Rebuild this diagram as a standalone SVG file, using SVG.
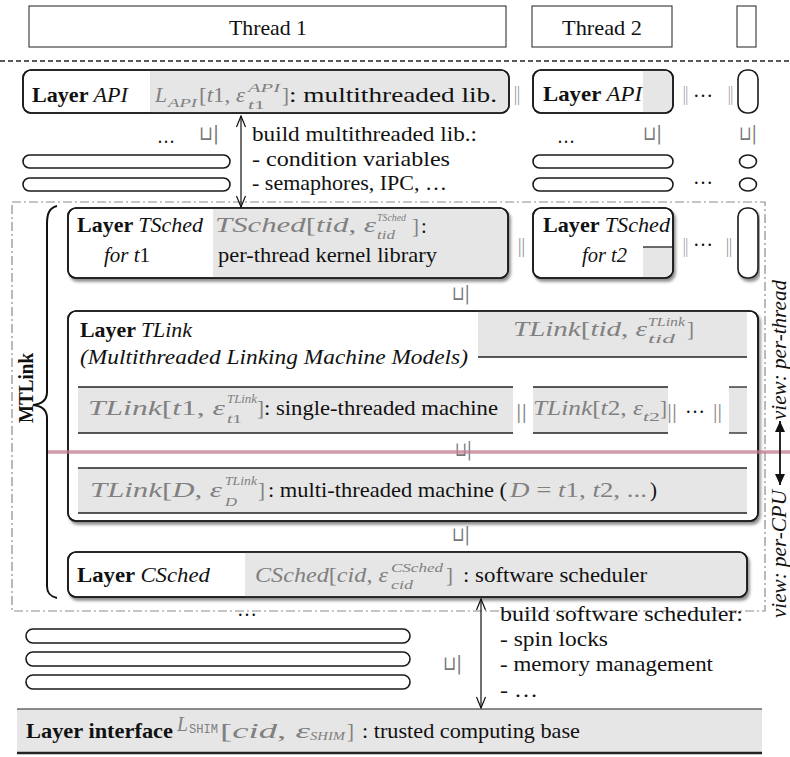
<svg xmlns="http://www.w3.org/2000/svg" width="790" height="757" viewBox="0 0 790 757">
<defs>
<style>
.t{font-family:"Liberation Serif","Times New Roman",serif;font-size:21px;fill:#111}
.h{font-size:22px}
.b{font-weight:bold}
.i{font-style:italic}
.m{fill:#808080}
.s{font-size:13px}
.xs{font-size:11px}
.mono{font-family:"Liberation Mono","Courier New",monospace}
.bar{font-family:"Liberation Serif",serif;font-size:20px;fill:#8a8a8a}
.sq{font-family:"DejaVu Sans",sans-serif;font-size:20px;fill:#777}
.box{fill:#fff;stroke:#1a1a1a;stroke-width:1.6}
.g{fill:#e6e6e6}
.ln{stroke:#222;stroke-width:1.3;fill:none}
.pill{fill:#fff;stroke:#1a1a1a;stroke-width:1.6}
.hdr{fill:#fff;stroke:#333;stroke-width:1.1}
.con{stroke:#111;stroke-width:1.2;fill:none}
</style>
<filter id="sh" x="-5%" y="-10%" width="115%" height="140%">
<feDropShadow dx="2" dy="3" stdDeviation="1.6" flood-color="#000" flood-opacity="0.45"/>
</filter>
<marker id="open" viewBox="-13 -6 14 12" markerWidth="14" markerHeight="12" refX="0" refY="0" orient="auto-start-reverse" markerUnits="userSpaceOnUse">
<path d="M-11,-4.5 L0,0 L-11,4.5" fill="none" stroke="#111" stroke-width="1.2"/>
</marker>
<marker id="solid" viewBox="-12 -6 13 12" markerWidth="13" markerHeight="12" refX="0" refY="0" orient="auto-start-reverse" markerUnits="userSpaceOnUse">
<path d="M-11,-5 L0,0 L-11,5 Z" fill="#111"/>
</marker>
</defs>
<rect width="790" height="757" fill="#fff"/>

<!-- thread headers -->
<g id="thread1">
<rect class="hdr" x="29" y="6" width="477" height="41"/>
<text class="t h" x="229" y="35" textLength="78" lengthAdjust="spacingAndGlyphs">Thread 1</text>
</g>
<g id="thread2">
<rect class="hdr" x="532" y="6" width="140" height="41"/>
<text class="t h" x="562" y="35" textLength="80" lengthAdjust="spacingAndGlyphs">Thread 2</text>
</g>
<g id="thread-n">
<rect class="hdr" x="737" y="6" width="19" height="41"/>
</g>
<line x1="0" y1="61" x2="790" y2="61" stroke="#222" stroke-width="1.4" stroke-dasharray="5 3"/>

<!-- MTLink frame -->
<g id="mtlink">
<rect x="12" y="202" width="753" height="409" fill="none" stroke="#8c8c8c" stroke-width="1.2" stroke-dasharray="9 3 2 3"/>
<path d="M57,206 C49,208 47,214 47,224 L47,392 C47,400 42,404 33,405 C42,406 47,410 47,418 L47,586 C47,592 49,596 57,598" fill="none" stroke="#111" stroke-width="2"/>
<text class="t b" transform="translate(33,388) rotate(-90)" text-anchor="middle" textLength="70" lengthAdjust="spacingAndGlyphs">MTLink</text>
</g>

<!-- Layer API, thread 1 -->
<g id="api-t1">
<rect class="box" x="23" y="70" width="486" height="43" rx="8"/>
<path class="g" d="M150,70.8 H501 A8,8 0 0 1 508.2,78 V105 A8,8 0 0 1 501,112.2 H150 Z"/>
<rect x="23" y="70" width="486" height="43" rx="8" fill="none" stroke="#1a1a1a" stroke-width="1.6"/>
<text class="t" x="32" y="102" textLength="96" lengthAdjust="spacingAndGlyphs"><tspan class="b">Layer </tspan><tspan class="i">API</tspan></text>
<text class="t i m" x="155" y="102" textLength="12" lengthAdjust="spacingAndGlyphs">L</text>
<text class="t i m s" x="168" y="107" textLength="29" lengthAdjust="spacingAndGlyphs">API</text>
<text class="t m" x="199" y="102" textLength="46" lengthAdjust="spacingAndGlyphs">[<tspan class="i">t</tspan>1, <tspan class="i">ε</tspan></text>
<text class="t i m s" x="248" y="92" textLength="32" lengthAdjust="spacingAndGlyphs">API</text>
<text class="t m s" x="248" y="109" textLength="17" lengthAdjust="spacingAndGlyphs"><tspan class="i">t</tspan>1</text>
<text class="t m" x="282" y="102">]</text>
<text class="t" x="289" y="102" textLength="208" lengthAdjust="spacingAndGlyphs">: multithreaded lib.</text>
</g>

<!-- Layer API, thread 2 -->
<g id="api-t2">
<rect class="box" x="533" y="70" width="140" height="43" rx="8"/>
<path class="g" d="M643,70.8 H665 A8,8 0 0 1 672.2,78 V105 A8,8 0 0 1 665,112.2 H643 Z"/>
<rect x="533" y="70" width="140" height="43" rx="8" fill="none" stroke="#1a1a1a" stroke-width="1.6"/>
<text class="t" x="543" y="101" textLength="99" lengthAdjust="spacingAndGlyphs"><tspan class="b">Layer </tspan><tspan class="i">API</tspan></text>
</g>
<g id="api-tn">
<rect class="box" x="738" y="70" width="20" height="43" rx="9"/>
</g>

<!-- lower layers under Layer API -->
<g id="api-below">
<text class="t" x="157" y="143" textLength="18" lengthAdjust="spacingAndGlyphs">…</text>
<text class="t" x="557" y="143" textLength="18" lengthAdjust="spacingAndGlyphs">…</text>
<text class="t" x="693" y="184" textLength="20" lengthAdjust="spacingAndGlyphs">…</text>
<rect class="pill" x="23" y="155" width="207" height="13" rx="6.5"/>
<rect class="pill" x="23" y="178" width="207" height="13" rx="6.5"/>
<rect class="pill" x="533" y="155" width="140" height="13" rx="6.5"/>
<rect class="pill" x="533" y="178" width="140" height="13" rx="6.5"/>
<ellipse class="pill" cx="748" cy="161.5" rx="8.5" ry="6.5"/>
<ellipse class="pill" cx="748" cy="184.5" rx="8.5" ry="6.5"/>
</g>

<!-- annotation: multithreaded library -->
<g id="note-lib">
<text class="t h" x="252" y="141" textLength="225" lengthAdjust="spacingAndGlyphs">build multithreaded lib.:</text>
<text class="t h" x="252" y="166" textLength="198" lengthAdjust="spacingAndGlyphs">- condition variables</text>
<text class="t h" x="252" y="190" textLength="195" lengthAdjust="spacingAndGlyphs">- semaphores, IPC, …</text>
</g>

<!-- Layer TSched, thread 1 -->
<g id="tsched-t1">
<rect class="box" x="68" y="208" width="440" height="70" rx="8" filter="url(#sh)"/>
<path class="g" d="M213,208.8 H500 A8,8 0 0 1 507.2,216 V270 A8,8 0 0 1 500,277.2 H213 Z"/>
<rect x="68" y="208" width="440" height="70" rx="8" fill="none" stroke="#1a1a1a" stroke-width="1.6"/>
<text class="t" x="77" y="232" textLength="126" lengthAdjust="spacingAndGlyphs"><tspan class="b">Layer </tspan><tspan class="i">TSched</tspan></text>
<text class="t" x="104" y="262" textLength="46" lengthAdjust="spacingAndGlyphs"><tspan class="i">for t</tspan>1</text>
<text class="t m" x="215" y="232" textLength="161" lengthAdjust="spacingAndGlyphs"><tspan class="i">TSched</tspan>[<tspan class="i">tid</tspan>, <tspan class="i">ε</tspan></text>
<text class="t i m xs" x="377" y="221" textLength="29" lengthAdjust="spacingAndGlyphs">TSched</text>
<text class="t i m s" x="377" y="239" textLength="18" lengthAdjust="spacingAndGlyphs">tid</text>
<text class="t m" x="412" y="233">]</text>
<text class="t" x="421" y="233">:</text>
<text class="t" x="218" y="262" textLength="219" lengthAdjust="spacingAndGlyphs">per-thread kernel library</text>
</g>

<!-- Layer TSched, thread 2 -->
<g id="tsched-t2">
<rect class="box" x="533" y="208" width="140" height="70" rx="8" filter="url(#sh)"/>
<path class="g" d="M643,247 H672.2 V270 A8,8 0 0 1 665,277.2 H643 Z"/>
<line class="ln" x1="643" y1="247" x2="673" y2="247"/>
<rect x="533" y="208" width="140" height="70" rx="8" fill="none" stroke="#1a1a1a" stroke-width="1.6"/>
<text class="t" x="543" y="232" textLength="127" lengthAdjust="spacingAndGlyphs"><tspan class="b">Layer </tspan><tspan class="i">TSched</tspan></text>
<text class="t i" x="582" y="262" textLength="45" lengthAdjust="spacingAndGlyphs">for t2</text>
</g>
<g id="tsched-tn">
<rect class="box" x="738" y="208" width="20" height="70" rx="9" filter="url(#sh)"/>
</g>

<!-- parallel composition marks -->
<g id="par-marks">
<text class="bar" x="514" y="100" textLength="6" lengthAdjust="spacingAndGlyphs">||</text>
<text class="bar" x="683" y="100" textLength="5" lengthAdjust="spacingAndGlyphs">||</text>
<text class="t" x="693" y="97" textLength="20" lengthAdjust="spacingAndGlyphs">…</text>
<text class="bar" x="728" y="100" textLength="5" lengthAdjust="spacingAndGlyphs">||</text>
<text class="bar" x="518" y="252" textLength="7" lengthAdjust="spacingAndGlyphs">||</text>
<text class="bar" x="683" y="252" textLength="5" lengthAdjust="spacingAndGlyphs">||</text>
<text class="t" x="693" y="246" textLength="20" lengthAdjust="spacingAndGlyphs">…</text>
<text class="bar" x="726" y="252" textLength="6" lengthAdjust="spacingAndGlyphs">||</text>
</g>

<!-- Layer TLink -->
<g id="tlink">
<rect class="box" x="68" y="311" width="690" height="210" rx="8" filter="url(#sh)"/>
<path class="g" d="M478,311.8 H747 V357 H478 Z"/>
<line class="ln" x1="478" y1="357" x2="747" y2="357"/>
<text class="t" x="80" y="337" textLength="112" lengthAdjust="spacingAndGlyphs"><tspan class="b">Layer </tspan><tspan class="i">TLink</tspan></text>
<text class="t i" x="80" y="364" textLength="388" lengthAdjust="spacingAndGlyphs">(Multithreaded Linking Machine Models)</text>
<text class="t m" x="513" y="336" textLength="134" lengthAdjust="spacingAndGlyphs"><tspan class="i">TLink</tspan>[<tspan class="i">tid</tspan>, <tspan class="i">ε</tspan></text>
<text class="t i m s" x="648" y="326" textLength="37" lengthAdjust="spacingAndGlyphs">TLink</text>
<text class="t i m s" x="648" y="343" textLength="27" lengthAdjust="spacingAndGlyphs">tid</text>
<text class="t m" x="687" y="336">]</text>

<!-- single-threaded row -->
<rect class="g" x="78" y="387" width="435" height="46"/>
<line class="ln" x1="78" y1="387" x2="513" y2="387"/>
<line class="ln" x1="78" y1="433" x2="513" y2="433"/>
<rect class="g" x="533" y="387" width="135" height="46"/>
<line class="ln" x1="533" y1="387" x2="668" y2="387"/>
<line class="ln" x1="533" y1="433" x2="668" y2="433"/>
<rect class="g" x="729" y="387" width="18" height="46"/>
<line class="ln" x1="729" y1="387" x2="747" y2="387"/>
<line class="ln" x1="729" y1="433" x2="747" y2="433"/>
<text class="t m" x="88" y="415" textLength="137" lengthAdjust="spacingAndGlyphs"><tspan class="i">TLink</tspan>[<tspan class="i">t</tspan>1, <tspan class="i">ε</tspan></text>
<text class="t i m s" x="227" y="403" textLength="30" lengthAdjust="spacingAndGlyphs">TLink</text>
<text class="t m s" x="227" y="423" textLength="15" lengthAdjust="spacingAndGlyphs"><tspan class="i">t</tspan>1</text>
<text class="t m" x="257" y="415">]</text>
<text class="t" x="264" y="415" textLength="234" lengthAdjust="spacingAndGlyphs">: single-threaded machine</text>
<text class="bar" x="516" y="418" textLength="11" lengthAdjust="spacingAndGlyphs">||</text>
<text class="t m" x="533" y="415" textLength="110" lengthAdjust="spacingAndGlyphs"><tspan class="i">TLink</tspan>[<tspan class="i">t</tspan>2, <tspan class="i">ε</tspan></text>
<text class="t m s" x="643" y="421" textLength="17" lengthAdjust="spacingAndGlyphs"><tspan class="i">t</tspan>2</text>
<text class="t m" x="660" y="415">]</text>
<text class="bar" x="667" y="418" textLength="10" lengthAdjust="spacingAndGlyphs">||</text>
<text class="t" x="685" y="413" textLength="20" lengthAdjust="spacingAndGlyphs">…</text>
<text class="bar" x="713" y="418" textLength="9" lengthAdjust="spacingAndGlyphs">||</text>

<!-- multi-threaded row -->
<rect class="g" x="78" y="468" width="669" height="45"/>
<line class="ln" x1="78" y1="468" x2="747" y2="468"/>
<line class="ln" x1="78" y1="513" x2="747" y2="513"/>
<text class="t m" x="90" y="497" textLength="132" lengthAdjust="spacingAndGlyphs"><tspan class="i">TLink</tspan>[<tspan class="i">D</tspan>, <tspan class="i">ε</tspan></text>
<text class="t i m s" x="225" y="485" textLength="32" lengthAdjust="spacingAndGlyphs">TLink</text>
<text class="t i m s" x="225" y="506" textLength="12" lengthAdjust="spacingAndGlyphs">D</text>
<text class="t m" x="258" y="497">]</text>
<text class="t" x="268" y="497" textLength="239" lengthAdjust="spacingAndGlyphs">: multi-threaded machine (</text>
<text class="t m" x="510" y="497" textLength="137" lengthAdjust="spacingAndGlyphs"><tspan class="i">D</tspan> = <tspan class="i">t</tspan>1, <tspan class="i">t</tspan>2, ...</text>
<text class="t" x="650" y="497">)</text>
<rect x="68" y="311" width="690" height="210" rx="8" fill="none" stroke="#1a1a1a" stroke-width="1.6"/>
</g>

<!-- Layer CSched -->
<g id="csched">
<rect class="box" x="68" y="552" width="679" height="45" rx="8" filter="url(#sh)"/>
<path class="g" d="M245,552.8 H739 A8,8 0 0 1 746.2,560 V589 A8,8 0 0 1 739,596.2 H245 Z"/>
<rect x="68" y="552" width="679" height="45" rx="8" fill="none" stroke="#1a1a1a" stroke-width="1.6"/>
<text class="t" x="77" y="582" textLength="133" lengthAdjust="spacingAndGlyphs"><tspan class="b">Layer </tspan><tspan class="i">CSched</tspan></text>
<text class="t m" x="255" y="582" textLength="133" lengthAdjust="spacingAndGlyphs"><tspan class="i">CSched</tspan>[<tspan class="i">cid</tspan>, <tspan class="i">ε</tspan></text>
<text class="t i m s" x="391" y="572" textLength="52" lengthAdjust="spacingAndGlyphs">CSched</text>
<text class="t i m s" x="391" y="589" textLength="22" lengthAdjust="spacingAndGlyphs">cid</text>
<text class="t m" x="446" y="582">]</text>
<text class="t" x="463" y="582" textLength="184" lengthAdjust="spacingAndGlyphs">: software scheduler</text>
</g>

<!-- refinement marks between layers -->
<g id="refines">
<text class="sq" x="199" y="140" textLength="20" lengthAdjust="spacingAndGlyphs">⊔|</text>
<text class="sq" x="643" y="140" textLength="19" lengthAdjust="spacingAndGlyphs">⊔|</text>
<text class="sq" x="739" y="140" textLength="18" lengthAdjust="spacingAndGlyphs">⊔|</text>
<text class="sq" x="452" y="300" textLength="18" lengthAdjust="spacingAndGlyphs">⊔|</text>
<text class="sq" x="455" y="456" textLength="17" lengthAdjust="spacingAndGlyphs">⊔|</text>
<text class="sq" x="452" y="541" textLength="18" lengthAdjust="spacingAndGlyphs">⊔|</text>
<text class="sq" x="443" y="670" textLength="19" lengthAdjust="spacingAndGlyphs">⊔|</text>
</g>

<!-- layers below CSched -->
<g id="csched-below">
<text class="t" x="237" y="616" textLength="20" lengthAdjust="spacingAndGlyphs">…</text>
<rect class="pill" x="26" y="629" width="384" height="14" rx="7"/>
<rect class="pill" x="26" y="652" width="384" height="14" rx="7"/>
<rect class="pill" x="26" y="675" width="384" height="14" rx="7"/>
</g>

<!-- annotation: software scheduler -->
<g id="note-sched">
<text class="t h" x="500" y="621" textLength="243" lengthAdjust="spacingAndGlyphs">build software scheduler:</text>
<text class="t h" x="500" y="646" textLength="108" lengthAdjust="spacingAndGlyphs">- spin locks</text>
<text class="t h" x="500" y="671" textLength="213" lengthAdjust="spacingAndGlyphs">- memory management</text>
<text class="t h" x="500" y="697" textLength="38" lengthAdjust="spacingAndGlyphs">- …</text>
</g>

<!-- Layer interface -->
<g id="interface">
<rect class="g" x="17" y="709" width="745" height="44"/>
<line x1="17" y1="709" x2="762" y2="709" stroke="#222" stroke-width="1.2"/>
<line x1="17" y1="753" x2="762" y2="753" stroke="#222" stroke-width="2.4"/>
<text class="t b" x="26" y="738" textLength="147" lengthAdjust="spacingAndGlyphs">Layer interface</text>
<text class="t i m" x="177" y="731" textLength="11" lengthAdjust="spacingAndGlyphs">L</text>
<text class="t m s mono" x="189" y="733" textLength="29" lengthAdjust="spacingAndGlyphs">SHIM</text>
<text class="t m" x="220" y="738" textLength="90" lengthAdjust="spacingAndGlyphs">[<tspan class="i">cid</tspan>, <tspan class="i">ε</tspan></text>
<text class="t i m s" x="310" y="740" textLength="35" lengthAdjust="spacingAndGlyphs">SHIM</text>
<text class="t m" x="347" y="738">]</text>
<text class="t" x="362" y="738" textLength="218" lengthAdjust="spacingAndGlyphs">: trusted computing base</text>
</g>

<!-- connectors -->
<g id="connectors">
<line class="con" x1="241" y1="116" x2="241" y2="207" marker-start="url(#open)" marker-end="url(#open)"/>
<line class="con" x1="481" y1="599" x2="481" y2="708" marker-start="url(#open)" marker-end="url(#open)"/>
<line x1="48" y1="452" x2="790" y2="452" stroke="#c27a8e" stroke-opacity="0.75" stroke-width="3.5"/>
<line x1="780" y1="421" x2="780" y2="485" stroke="#111" stroke-width="1.8" marker-start="url(#solid)" marker-end="url(#solid)"/>
</g>

<!-- views -->
<g id="views">
<text class="t i" transform="translate(786,350) rotate(-90)" text-anchor="middle" textLength="140" lengthAdjust="spacingAndGlyphs">view: per-thread</text>
<text class="t i" transform="translate(786,554) rotate(-90)" text-anchor="middle" textLength="128" lengthAdjust="spacingAndGlyphs">view: per-CPU</text>
</g>
</svg>
